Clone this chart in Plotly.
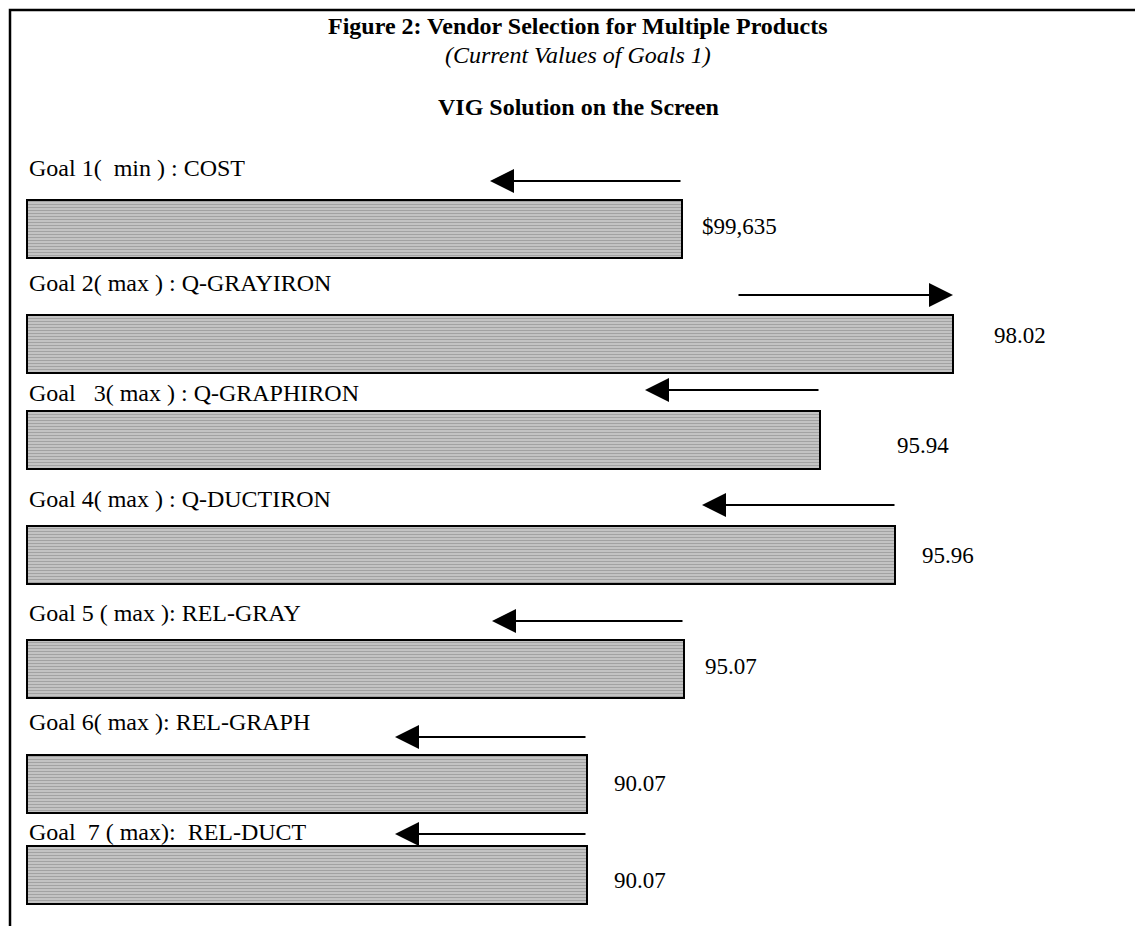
import plotly.graph_objects as go

# ---- data ----
goal_labels = [
    "Goal 1(  min ) : COST",
    "Goal 2( max ) : Q-GRAYIRON",
    "Goal   3( max ) : Q-GRAPHIRON",
    "Goal 4( max ) : Q-DUCTIRON",
    "Goal 5 ( max ): REL-GRAY",
    "Goal 6( max ): REL-GRAPH",
    "Goal  7 ( max):  REL-DUCT",
]
value_labels = ["$99,635", "98.02", "95.94", "95.96", "95.07", "90.07", "90.07"]
# bar lengths in screen units (current achievement of each goal)
bar_length = [655, 926, 793, 868, 657, 560, 560]
# arrows: start and end (screen units) showing direction of change
arrow_start = [655, 710, 793, 869, 657, 560, 560]
arrow_end = [463, 926, 618, 675, 465, 368, 368]

title = "Figure 2: Vendor Selection for Multiple Products"
subtitle = "(Current Values of Goals 1)"
heading = "VIG Solution on the Screen"

# ---- layout constants (screen-pixel based) ----
W, H = 1143, 926
OFF = 8            # page body margin
X0 = 27            # left edge of bars on screen
row_y = [229, 344, 440, 555, 669, 784, 875]
bar_h = 58
label_y = [168, 283, 393, 499, 613, 722, 832]
arrow_y = [181, 295, 390, 505, 621, 737, 834]
value_x = [700, 992, 895, 920, 703, 612, 612]
value_y = [226, 335, 445, 555, 666, 783, 880]

FONT = "Liberation Serif, Times New Roman, serif"

fig = go.Figure()
fig.add_trace(go.Bar(
    orientation="h",
    x=bar_length,
    y=row_y,
    width=bar_h,
    base=0,
    marker=dict(
        color="#bcbcbc",
        line=dict(color="black", width=2),
        pattern=dict(shape="-", fgcolor="#7e7e7e", bgcolor="#c6c6c6", size=3, solidity=0.4),
    ),
    hoverinfo="skip",
    showlegend=False,
))

ann = []
for i in range(len(goal_labels)):
    ann.append(dict(x=0, y=label_y[i], xref="x", yref="y", text=goal_labels[i],
                    showarrow=False, xanchor="left", yanchor="middle",
                    font=dict(family=FONT, size=24, color="black")))
    ann.append(dict(x=value_x[i] - X0, y=value_y[i], xref="x", yref="y", text=value_labels[i],
                    showarrow=False, xanchor="left", yanchor="middle",
                    font=dict(family=FONT, size=23, color="black")))
    ann.append(dict(x=arrow_end[i], y=arrow_y[i], ax=arrow_start[i], ay=arrow_y[i],
                    xref="x", yref="y", axref="x", ayref="y", text="",
                    showarrow=True, arrowhead=2, arrowsize=2.4, arrowwidth=2, arrowcolor="black"))

cx = 578 - X0
ann.append(dict(x=cx, y=26, xref="x", yref="y", text="<b>" + title + "</b>", showarrow=False,
                xanchor="center", yanchor="middle", font=dict(family=FONT, size=24, color="black")))
ann.append(dict(x=cx, y=55, xref="x", yref="y", text="<i>" + subtitle + "</i>", showarrow=False,
                xanchor="center", yanchor="middle", font=dict(family=FONT, size=24, color="black")))
ann.append(dict(x=cx, y=107, xref="x", yref="y", text="<b>" + heading + "</b>", showarrow=False,
                xanchor="center", yanchor="middle", font=dict(family=FONT, size=24, color="black")))

shapes = [dict(type="path", xref="x", yref="y",
               path=f"M {W},10 L {10 - X0},10 L {10 - X0},{H + 5}",
               line=dict(color="black", width=2.5))]

PW, PH = W - OFF, H - OFF
fig.update_layout(
    width=PW, height=PH,
    margin=dict(l=0, r=0, t=0, b=0),
    paper_bgcolor="white", plot_bgcolor="white",
    xaxis=dict(range=[OFF - X0, PW + OFF - X0], visible=False, fixedrange=True),
    yaxis=dict(range=[H, OFF], visible=False, fixedrange=True),
    annotations=ann, shapes=shapes,
    bargap=0,
)
fig.write_html("out.html", config={"displayModeBar": False})
